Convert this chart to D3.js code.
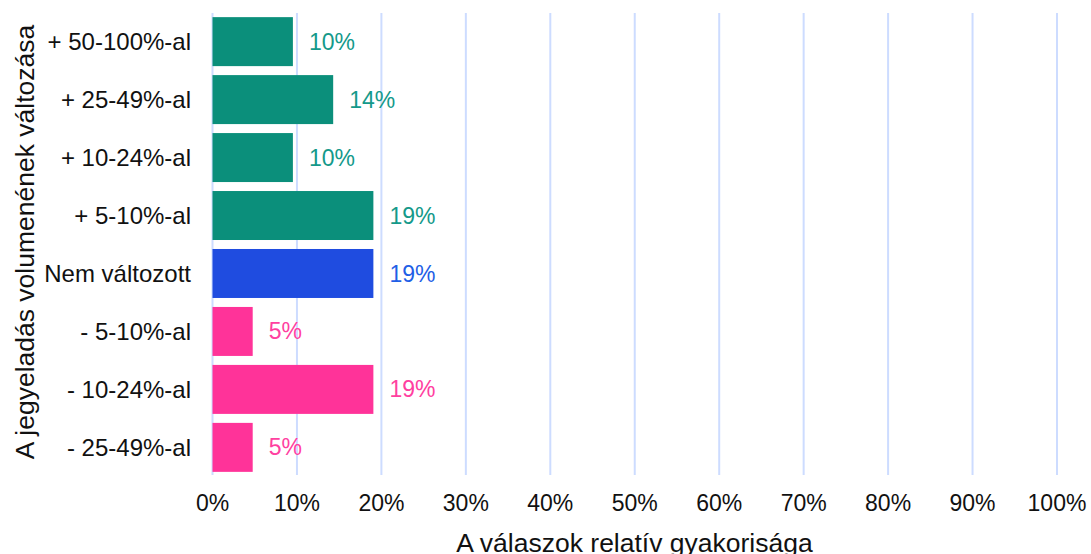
<!DOCTYPE html>
<html><head><meta charset="utf-8">
<script src="https://cdn.jsdelivr.net/npm/d3@7"></script>
<style>body{margin:0;background:#fff}svg{display:block;font-family:"Liberation Sans",Arial,sans-serif}</style>
</head><body><svg id="c" width="1091" height="554"></svg>
<script>
const categories = ["+ 50-100%-al","+ 25-49%-al","+ 10-24%-al","+ 5-10%-al","Nem változott","- 5-10%-al","- 10-24%-al","- 25-49%-al"];
const values = [9.52, 14.29, 9.52, 19.05, 19.05, 4.76, 19.05, 4.76];
const groups = ["up","up","up","up","same","down","down","down"];
const colors = {up:"#0b8f7b", same:"#1f4ce0", down:"#ff3399"};
const labelColors = {up:"#14998a", same:"#1f5fe6", down:"#ff40a0"};
const xTicks = [0,10,20,30,40,50,60,70,80,90,100];

const svg = d3.select("#c");
const x = d3.scaleLinear().domain([0,100]).range([212.5,1057]);
const y = d3.scaleBand().domain(categories).range([12.5,476.5]).paddingInner(0.155).paddingOuter(0.08);

svg.append("g").selectAll("line").data(xTicks).join("line")
  .attr("x1",d=>x(d)).attr("x2",d=>x(d)).attr("y1",13).attr("y2",475)
  .attr("stroke","#cddcff").attr("stroke-width",2);

const data = categories.map((c,i)=>({c, v:values[i], g:groups[i]}));
svg.append("g").selectAll("rect").data(data).join("rect")
  .attr("x",x(0)).attr("y",d=>y(d.c)).attr("width",d=>x(d.v)-x(0)).attr("height",y.bandwidth())
  .attr("fill",d=>colors[d.g]);

svg.append("g").selectAll("text").data(data).join("text")
  .attr("x",d=>x(d.v)+16).attr("y",d=>y(d.c)+y.bandwidth()/2).attr("dy","0.35em")
  .attr("font-size",23).attr("fill",d=>labelColors[d.g])
  .text(d=>Math.round(d.v)+"%");

svg.append("g").selectAll("text").data(categories).join("text")
  .attr("x",191).attr("y",d=>y(d)+y.bandwidth()/2).attr("dy","0.35em")
  .attr("text-anchor","end").attr("font-size",24).attr("fill","#111")
  .text(d=>d);

svg.append("g").selectAll("text").data(xTicks).join("text")
  .attr("x",d=>x(d)).attr("y",503).attr("dy","0.35em")
  .attr("text-anchor","middle").attr("font-size",23).attr("fill","#111")
  .text(d=>d+"%");

svg.append("text").attr("x",634.5).attr("y",551.5)
  .attr("text-anchor","middle").attr("font-size",26.5).attr("fill","#111")
  .text("A válaszok relatív gyakorisága");

svg.append("text").attr("transform","translate(25,242) rotate(-90)").attr("dy","0.35em")
  .attr("text-anchor","middle").attr("font-size",26.5).attr("fill","#111")
  .text("A jegyeladás volumenének változása");
</script></body></html>
